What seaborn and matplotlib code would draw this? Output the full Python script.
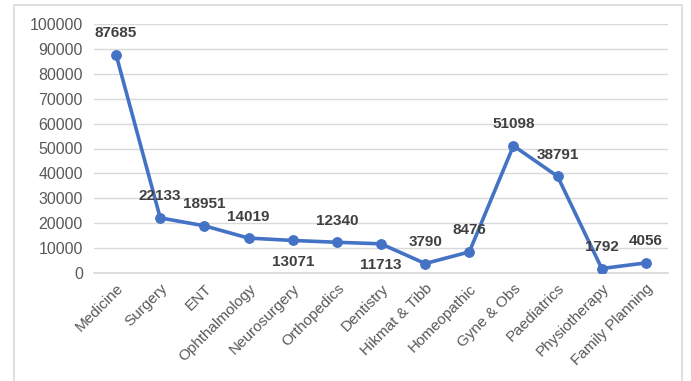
import matplotlib
matplotlib.use("Agg")
import matplotlib.pyplot as plt
import seaborn as sns
import pandas as pd
from matplotlib.patches import Rectangle

departments = ["Medicine", "Surgery", "ENT", "Ophthalmology", "Neurosurgery",
               "Orthopedics", "Dentistry", "Hikmat & Tibb", "Homeopathic",
               "Gyne & Obs", "Paediatrics", "Physiotherapy", "Family Planning"]
patients = [87685, 22133, 18951, 14019, 13071, 12340, 11713, 3790, 8476,
            51098, 38791, 1792, 4056]
y_ticks = [0, 10000, 20000, 30000, 40000, 50000, 60000, 70000, 80000, 90000, 100000]

# label placement: +1 above the point, -1 below (layout only)
label_side = [1, 1, 1, 1, -1, 1, -1, 1, 1, 1, 1, 1, 1]

sns.set_theme(style="white")
plt.rcParams['font.family'] = ['Liberation Sans', 'DejaVu Sans']

df = pd.DataFrame({"Department": departments, "Patients": patients})

fig = plt.figure(figsize=(6.91, 3.81), dpi=100)
ax = fig.add_axes([94/691, 108/381, 574/691, 249/381])

fig.patches.append(Rectangle((14/691, -0.05), 668/691, 376/381 + 0.05,
                             transform=fig.transFigure, fill=False,
                             edgecolor="#d9d9d9", linewidth=1.2, zorder=0))

sns.lineplot(data=df, x="Department", y="Patients", sort=False, ax=ax,
             color="#4472C4", linewidth=2.6, marker="o", markersize=7,
             markeredgecolor="#4472C4", zorder=3)

ax.set_xlim(-0.5, len(departments) - 0.5)
ax.set_ylim(0, 100000)
ax.set_yticks(y_ticks)
ax.set_yticklabels([str(v) for v in y_ticks])
ax.yaxis.grid(True, color="#d9d9d9", linewidth=1)
ax.xaxis.grid(False)
for s in ["top", "right", "left"]:
    ax.spines[s].set_visible(False)
ax.spines["bottom"].set_color("#d9d9d9")
ax.set_xlabel("")
ax.set_ylabel("")
ax.tick_params(axis="y", length=0, pad=8, labelsize=11.5, labelcolor="#595959")
ax.tick_params(axis="x", length=0, pad=6, labelsize=11, labelcolor="#595959")
for lbl in ax.get_xticklabels():
    lbl.set_rotation(45)
    lbl.set_ha("right")
    lbl.set_rotation_mode("anchor")

for i, (v, side) in enumerate(zip(patients, label_side)):
    ax.annotate(str(v), (i, v), xytext=(0, 15.5 * side), textcoords="offset points",
                ha="center", va="center", fontsize=11, fontweight="bold",
                color="#404040", zorder=4)

fig.savefig("out.png", dpi=100)
